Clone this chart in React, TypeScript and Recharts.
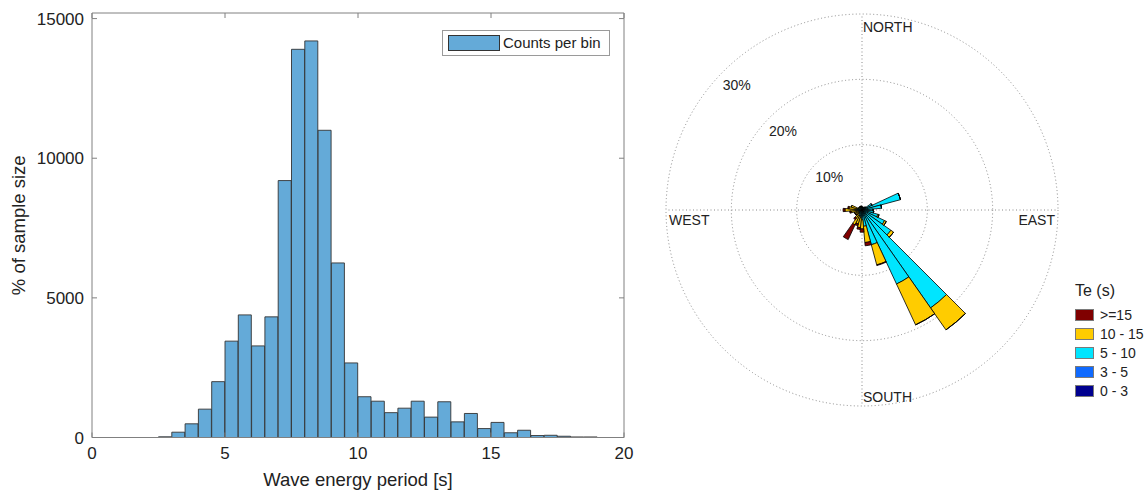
import React from 'react';
import {
  BarChart,
  Bar,
  XAxis,
  YAxis,
  RadialBarChart,
  RadialBar,
  PolarGrid,
  PolarAngleAxis,
  PolarRadiusAxis,
} from 'recharts';

const FONT = '"Liberation Sans", Arial, Helvetica, sans-serif';
const INK = '#222222';
const FRAME = '#808080';

// ---- Histogram of wave energy period (0.5 s bins) ----
const binStart = [
  0, 0.5, 1, 1.5, 2, 2.5, 3, 3.5, 4, 4.5,
  5, 5.5, 6, 6.5, 7, 7.5, 8, 8.5, 9, 9.5,
  10, 10.5, 11, 11.5, 12, 12.5, 13, 13.5, 14, 14.5,
  15, 15.5, 16, 16.5, 17, 17.5, 18, 18.5, 19, 19.5,
];
const binWidth = 0.5;
const binCount = [
  0, 0, 0, 0, 0, 25, 190, 490, 1015, 2000,
  3450, 4390, 3280, 4320, 9200, 13900, 14200, 11000, 6250, 2670,
  1460, 1300, 890, 1050, 1300, 730, 1280, 560, 860, 320,
  540, 170, 260, 70, 80, 45, 20, 20, 0, 0,
];
const periodTicks = [0, 5, 10, 15, 20];
const countTicks = [0, 5000, 10000, 15000];
const histColor = '#64AAD8';

// ---- Direction rose: % of samples per 10° sector, split by Te class ----
const bearings = [
  0, 10, 20, 30, 40, 50, 60, 70, 80, 90, 100, 110,
  120, 130, 140, 150, 160, 170, 180, 190, 200, 210, 220, 230,
  240, 250, 260, 270, 280, 290, 300, 310, 320, 330, 340, 350,
];
const pct0to3 = [
  0.1, 0.1, 0.1, 0.1, 0.1, 0.1, 0.1, 0.1, 0.1, 0.1, 0.1, 0.1,
  0.1, 0.1, 0.1, 0.1, 0.1, 0.1, 0.1, 0.1, 0.1, 0.1, 0.1, 0.1,
  0.1, 0.1, 0.1, 0.1, 0.1, 0.1, 0.1, 0.1, 0.1, 0.1, 0.1, 0.1,
];
const pct3to5 = [
  0.1, 0.1, 0.1, 0.1, 0.1, 0.1, 0.1, 0.2, 0.2, 0.1, 0.1, 0.1,
  0.2, 0.3, 0.4, 0.3, 0.2, 0.1, 0.1, 0.1, 0.1, 0.1, 0.1, 0.1,
  0.1, 0.1, 0.1, 0.1, 0.1, 0.1, 0.1, 0.1, 0.1, 0.1, 0.1, 0.1,
];
const pct5to10 = [
  0.3, 0.2, 0.2, 0.2, 0.3, 0.5, 1.5, 5.8, 2.7, 1.5, 1.6, 2.3,
  3.5, 5.0, 17.8, 12.1, 5.2, 2.3, 1.3, 1.0, 0.8, 0.8, 0.5, 0.4,
  0.4, 0.4, 0.5, 0.8, 0.6, 0.5, 0.3, 0.3, 0.3, 0.3, 0.3, 0.3,
];
const pct10to15 = [
  0, 0, 0, 0, 0, 0, 0, 0, 0, 0, 0, 0.2,
  0.3, 0.5, 4.1, 6.9, 3.2, 2.5, 1.4, 1.5, 1.2, 1.5, 0.8, 0.5,
  0.6, 0.6, 1.0, 1.6, 1.2, 1.0, 0.1, 0.1, 0.1, 0.1, 0.1, 0.1,
];
const pctOver15 = [
  0, 0, 0, 0, 0, 0, 0, 0, 0, 0, 0, 0,
  0, 0, 0, 0, 0.1, 0.5, 0.5, 0.3, 0.3, 2.5, 0.3, 0.1,
  0, 0, 0.2, 0.3, 0.2, 0, 0, 0, 0, 0, 0, 0,
];
const teKeys = ['c0', 'c1', 'c2', 'c3', 'c4'];
const teLabels = ['0 - 3', '3 - 5', '5 - 10', '10 - 15', '>=15'];
const teColors = ['#00008F', '#0F6AFF', '#00E5FF', '#FFCC00', '#800000'];
const ringPct = [10, 20, 30];
const compassNames: Record<number, string> = { 0: 'NORTH', 90: 'EAST', 180: 'SOUTH', 270: 'WEST' };

// bars are placed at the centre of each bin on a numeric period axis
const histData = binStart.map((b, i) => ({ mid: b + binWidth / 2, count: binCount[i] }));
const roseData = bearings.map((d, i) => ({
  dir: d,
  c0: pct0to3[i],
  c1: pct3to5[i],
  c2: pct5to10[i],
  c3: pct10to15[i],
  c4: pctOver15[i],
}));

const NoTick = () => null;

// Cardinal names drawn just inside the outer ring
const CompassTick = (props: any) => {
  const { payload, cx, cy, radius } = props;
  const v = payload?.value;
  const name = compassNames[v];
  if (!name) return null;
  let tx = props.x;
  let ty = props.y;
  let anchor: 'start' | 'end' = 'start';
  if (typeof cx === 'number' && typeof cy === 'number' && typeof radius === 'number') {
    if (v === 0) { tx = cx + 1; ty = cy - radius + 18; }
    if (v === 90) { tx = cx + radius - 3; ty = cy + 15; anchor = 'end'; }
    if (v === 180) { tx = cx + 1; ty = cy + radius - 4; }
    if (v === 270) { tx = cx - radius + 3; ty = cy + 15; }
  } else if (v === 90) {
    anchor = 'end';
  }
  return (
    <text x={tx} y={ty} textAnchor={anchor} fontFamily={FONT} fontSize={14} fill={INK}>
      {name}
    </text>
  );
};

// Ring percentages placed inside each ring on the upper-left diagonal
const RingTick = (props: any) => {
  const { x, y, payload } = props;
  return (
    <text x={x + 13.4} y={y + 13.4 + 5} textAnchor="middle" fontFamily={FONT} fontSize={14} fill={INK}>
      {`${payload.value}%`}
    </text>
  );
};

export default function App() {
  return (
    <div
      style={{
        position: 'absolute',
        left: 0,
        top: 0,
        width: 1147,
        height: 491,
        background: '#ffffff',
        fontFamily: FONT,
        overflow: 'hidden',
      }}
    >
      <div style={{ position: 'absolute', left: 0, top: 0 }}>
        <BarChart
          width={640}
          height={491}
          data={histData}
          margin={{ top: 12, right: 15, bottom: 0, left: 0 }}
          barCategoryGap={0}
          barGap={0}
        >
          <XAxis
            xAxisId="period"
            dataKey="mid"
            type="number"
            domain={[0, 20]}
            ticks={periodTicks}
            allowDataOverflow
            interval={0}
            height={53.5}
            stroke={FRAME}
            tickSize={-5}
            tickMargin={14.5}
            tick={{ fill: INK, fontSize: 17, fontFamily: FONT }}
            label={{
              value: 'Wave energy period [s]',
              position: 'insideBottom',
              offset: 5,
              fill: INK,
              fontSize: 18.5,
              fontFamily: FONT,
            }}
          />
          <XAxis
            xAxisId="frameTop"
            dataKey="mid"
            orientation="top"
            type="number"
            domain={[0, 20]}
            ticks={periodTicks}
            allowDataOverflow
            interval={0}
            height={1}
            stroke={FRAME}
            tickSize={-5}
            tick={NoTick}
          />
          <YAxis
            yAxisId="count"
            type="number"
            domain={[0, 15200]}
            ticks={countTicks}
            allowDataOverflow
            interval={0}
            width={92}
            stroke={FRAME}
            tickSize={-5}
            tickMargin={13}
            tick={{ fill: INK, fontSize: 17, fontFamily: FONT }}
            label={{
              value: '% of sample size',
              angle: -90,
              position: 'insideLeft',
              offset: 18,
              fill: INK,
              fontSize: 18.5,
              fontFamily: FONT,
              style: { textAnchor: 'middle' },
            }}
          />
          <YAxis
            yAxisId="frameRight"
            orientation="right"
            type="number"
            domain={[0, 15200]}
            ticks={countTicks}
            allowDataOverflow
            interval={0}
            width={1}
            stroke={FRAME}
            tickSize={-5}
            tick={NoTick}
          />
          <Bar
            xAxisId="period"
            yAxisId="count"
            dataKey="count"
            fill={histColor}
            stroke="#333333"
            strokeWidth={0.9}
            isAnimationActive={false}
          />
        </BarChart>
      </div>

      {/* histogram legend */}
      <div
        style={{
          position: 'absolute',
          left: 442,
          top: 30,
          width: 168,
          height: 26,
          border: '1px solid #9a9a9a',
          background: '#fff',
          boxSizing: 'border-box',
        }}
      >
        <div
          style={{
            position: 'absolute',
            left: 5,
            top: 4,
            width: 52,
            height: 16,
            background: histColor,
            border: '1px solid #333',
            boxSizing: 'border-box',
          }}
        />
        <div
          style={{
            position: 'absolute',
            left: 60,
            top: 3,
            fontSize: 15,
            lineHeight: '18px',
            color: INK,
            whiteSpace: 'nowrap',
          }}
        >
          Counts per bin
        </div>
      </div>

      <div style={{ position: 'absolute', left: 660, top: 0 }}>
        <RadialBarChart
          width={410}
          height={420}
          data={roseData}
          layout="centric"
          cx={202}
          cy={210}
          innerRadius={0}
          outerRadius={196}
          startAngle={85}
          endAngle={-275}
          barCategoryGap={0}
          barGap={0}
          margin={{ top: 0, right: 0, bottom: 0, left: 0 }}
        >
          <PolarGrid
            gridType="circle"
            polarAngles={[90, 0, 270, 180]}
            stroke="#8a8a8a"
            strokeDasharray="1 2.5"
          />
          <PolarAngleAxis
            dataKey="dir"
            type="category"
            axisLine={false}
            tickLine={false}
            orientation="inner"
            tickSize={1}
            tick={CompassTick}
          />
          <PolarRadiusAxis
            angle={135}
            type="number"
            domain={[0, 30]}
            ticks={ringPct}
            axisLine={false}
            tickLine={false}
            tick={RingTick}
          />
          {teKeys.map((k, i) => (
            <RadialBar
              key={k}
              dataKey={k}
              stackId="te"
              fill={teColors[i]}
              stroke="#000000"
              strokeWidth={0.8}
              isAnimationActive={false}
            />
          ))}
        </RadialBarChart>
      </div>

      {/* Te class legend */}
      <div style={{ position: 'absolute', left: 1075, top: 282, fontSize: 16, color: INK, whiteSpace: 'nowrap' }}>
        Te (s)
      </div>
      {[4, 3, 2, 1, 0].map((ci, row) => (
        <div key={teLabels[ci]} style={{ position: 'absolute', left: 1075, top: 309 + row * 19, height: 12 }}>
          <div
            style={{
              position: 'absolute',
              left: 0,
              top: 0,
              width: 19,
              height: 12,
              background: teColors[ci],
              border: '1px solid #7a7a7a',
              boxSizing: 'border-box',
            }}
          />
          <div
            style={{
              position: 'absolute',
              left: 25,
              top: -3,
              fontSize: 14,
              lineHeight: '18px',
              color: INK,
              whiteSpace: 'nowrap',
            }}
          >
            {teLabels[ci]}
          </div>
        </div>
      ))}
    </div>
  );
}
